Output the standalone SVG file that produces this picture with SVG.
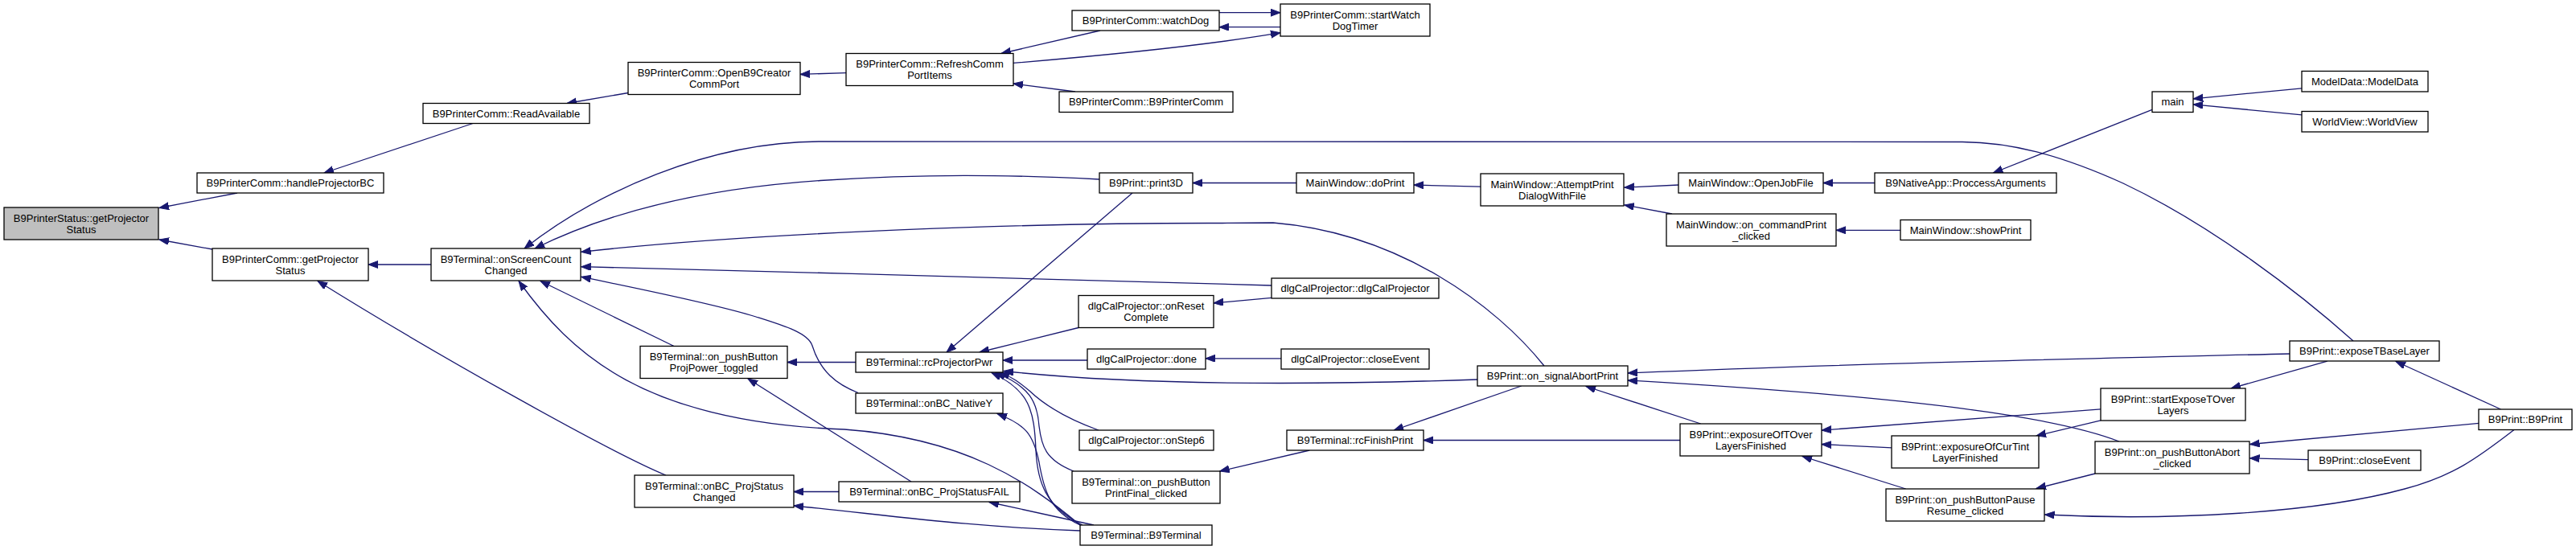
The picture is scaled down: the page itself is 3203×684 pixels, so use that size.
<svg xmlns="http://www.w3.org/2000/svg" width="3203" height="684" viewBox="0 0 3203 684">
<style>
.n rect{fill:#fff;stroke:#000;stroke-width:1.3}
.n.g rect{fill:#bfbfbf}
.n text{font-family:"Liberation Sans",Arial,sans-serif;font-size:13px;text-anchor:middle;fill:#000}
.e path{fill:none;stroke:#191970;stroke-width:1.3;marker-end:url(#a)}
</style>
<defs>
<marker id="a" markerWidth="14" markerHeight="10" refX="12" refY="4.5" orient="auto" markerUnits="userSpaceOnUse"><path d="M0,0L12,4.5L0,9z" fill="#191970" stroke="#191970" stroke-width="1"/></marker>
</defs>
<rect width="3203" height="684" fill="#fff"/>
<g id="edges" class="e">
<path d="M295,240 L198,258.5"/>
<path d="M264,310 L198,298"/>
<path d="M588,153.5 L403,215"/>
<path d="M536,329 L458,329"/>
<path d="M828,591 C760,563 540,440 395,349.5"/>
<path d="M781,115.5 L705,128.5"/>
<path d="M1052,90.6 L995,92.4"/>
<path d="M1368,38 L1245,66.5"/>
<path d="M1337,114 L1260,104"/>
<path d="M1260,78.4 Q1480,60 1592,40.7"/>
<path d="M1516,15.7 L1592,15.7"/>
<path d="M1592,33.7 L1516,33.7"/>
<path d="M2926,424 C2860,365 2750,280 2640,228 C2560,192 2500,177 2440,176.5 L1020,176 C880,176 740,240 652,309"/>
<path d="M1367,223 C1250,217 1150,216 1020,224.5 C880,234 760,262 665,309"/>
<path d="M1920,455 C1860,380 1740,290 1583,277 L1520,277.5 C1300,277 950,288 722.7,313.3"/>
<path d="M1581,355 C1350,349 1000,338 722.7,331.7"/>
<path d="M1067,488.5 C1040,478 1020,462 1010,430 C1005,414 975,405 940,394 C890,378.3 790,358 722.7,344.3"/>
<path d="M838,430.5 L672,349.5"/>
<path d="M1343,653 C1280,600 1200,545 1050,534 C800,525 710,440 645,349.5"/>
<path d="M1064,450.5 L979,450.5"/>
<path d="M1133,599 L930,471"/>
<path d="M1043,611.5 L987,611.5"/>
<path d="M1343,660 C1200,655 1100,640 987,629"/>
<path d="M1612,227.5 L1483,227.5"/>
<path d="M1408,240 L1177,438"/>
<path d="M1341,407.5 L1218,438"/>
<path d="M1352,448 L1247,448"/>
<path d="M1837,472 C1600,480 1400,478 1248,461.5"/>
<path d="M1366,535 C1330,522 1300,505 1280,486 C1268,476 1258,468 1243,463.5"/>
<path d="M1335,586 C1300,572 1295,555 1292,530 C1290,500 1280,480 1238,463.5"/>
<path d="M1346,653 C1300,630 1290,600 1288,560 C1286,510 1280,485 1233,463.5"/>
<path d="M1343,653 C1305,635 1298,610 1292,575 C1285,540 1275,528 1240,514.5"/>
<path d="M1360,653 L1230,624.5"/>
<path d="M1581,370.4 L1509,376.9"/>
<path d="M1593,445.8 L1499,445.8"/>
<path d="M1628.3,560 L1516.7,586"/>
<path d="M1841,232.2 L1758,230"/>
<path d="M1891.7,480 L1733.3,535"/>
<path d="M2089,547.5 L1770,547.5"/>
<path d="M2114.7,527 L1972,480.5"/>
<path d="M2847,440 C2600,446 2300,452 2024,464"/>
<path d="M2635,549 C2560,520 2400,495 2024,473"/>
<path d="M2087.4,230 L2019.8,233.1"/>
<path d="M2079,266 L2019.8,254.9"/>
<path d="M2331,227.5 L2267,227.5"/>
<path d="M2363,286.3 L2283,286.3"/>
<path d="M2676,136.4 L2478.4,215"/>
<path d="M2862,109.8 L2727.2,122.9"/>
<path d="M2862,142.9 L2727.2,129.8"/>
<path d="M2612,508.9 L2265,535.1"/>
<path d="M2352.3,556.9 L2265,552.5"/>
<path d="M2369.7,608 L2241,567.5"/>
<path d="M2612,522.9 L2532,542"/>
<path d="M2605,589 L2532,607.5"/>
<path d="M3126,534.5 C3080,570 3050,592 2990,608 C2880,638 2700,648 2542.5,640"/>
<path d="M2893.8,449.2 L2774,483"/>
<path d="M3109.5,509 L2979,449.5"/>
<path d="M3082.4,526.4 L2797.5,552.5"/>
<path d="M2870.2,571.7 L2797.5,569.9"/>
</g>
<g id="n1" class="n g"><rect x="5" y="258" width="192" height="40"/><text x="101" y="275.5">B9PrinterStatus::getProjector</text><text x="101" y="289.5">Status</text></g>
<g id="n2" class="n"><rect x="245" y="215" width="232" height="25"/><text x="361" y="232">B9PrinterComm::handleProjectorBC</text></g>
<g id="n3" class="n"><rect x="264" y="309" width="194" height="40"/><text x="361" y="326.5">B9PrinterComm::getProjector</text><text x="361" y="340.5">Status</text></g>
<g id="n4" class="n"><rect x="526" y="128.5" width="207" height="25"/><text x="629.5" y="145.5">B9PrinterComm::ReadAvailable</text></g>
<g id="n5" class="n"><rect x="781" y="77.5" width="214" height="40"/><text x="888" y="95">B9PrinterComm::OpenB9Creator</text><text x="888" y="109">CommPort</text></g>
<g id="n6" class="n"><rect x="536" y="309" width="186" height="40"/><text x="629" y="326.5">B9Terminal::onScreenCount</text><text x="629" y="340.5">Changed</text></g>
<g id="n7" class="n"><rect x="796" y="430.5" width="183" height="40"/><text x="887.5" y="448">B9Terminal::on_pushButton</text><text x="887.5" y="462">ProjPower_toggled</text></g>
<g id="n8" class="n"><rect x="789" y="591" width="198" height="40"/><text x="888" y="608.5">B9Terminal::onBC_ProjStatus</text><text x="888" y="622.5">Changed</text></g>
<g id="n9" class="n"><rect x="1333" y="13" width="183" height="25"/><text x="1424.5" y="30">B9PrinterComm::watchDog</text></g>
<g id="n10" class="n"><rect x="1052" y="66.5" width="208" height="40"/><text x="1156" y="84">B9PrinterComm::RefreshComm</text><text x="1156" y="98">PortItems</text></g>
<g id="n11" class="n"><rect x="1317" y="114" width="216" height="25.5"/><text x="1425" y="131">B9PrinterComm::B9PrinterComm</text></g>
<g id="n12" class="n"><rect x="1367" y="215" width="116" height="25"/><text x="1425" y="232">B9Print::print3D</text></g>
<g id="n13" class="n"><rect x="1341" y="367.5" width="168" height="40"/><text x="1425" y="385">dlgCalProjector::onReset</text><text x="1425" y="399">Complete</text></g>
<g id="n14" class="n"><rect x="1064" y="438" width="183" height="25"/><text x="1155.5" y="455">B9Terminal::rcProjectorPwr</text></g>
<g id="n15" class="n"><rect x="1352" y="434" width="147" height="25"/><text x="1425.5" y="451">dlgCalProjector::done</text></g>
<g id="n16" class="n"><rect x="1064" y="489" width="183" height="25"/><text x="1155.5" y="506">B9Terminal::onBC_NativeY</text></g>
<g id="n17" class="n"><rect x="1342" y="535" width="167" height="25"/><text x="1425.5" y="552">dlgCalProjector::onStep6</text></g>
<g id="n18" class="n"><rect x="1333" y="586" width="184" height="40"/><text x="1425" y="603.5">B9Terminal::on_pushButton</text><text x="1425" y="617.5">PrintFinal_clicked</text></g>
<g id="n19" class="n"><rect x="1043" y="599" width="225" height="25"/><text x="1155.5" y="616">B9Terminal::onBC_ProjStatusFAIL</text></g>
<g id="n20" class="n"><rect x="1343" y="653" width="164" height="25"/><text x="1425" y="670">B9Terminal::B9Terminal</text></g>
<g id="n21" class="n"><rect x="1592" y="5" width="186" height="40"/><text x="1685" y="22.5">B9PrinterComm::startWatch</text><text x="1685" y="36.5">DogTimer</text></g>
<g id="n22" class="n"><rect x="1612" y="215" width="146" height="25"/><text x="1685" y="232">MainWindow::doPrint</text></g>
<g id="n23" class="n"><rect x="1841" y="216" width="178" height="40"/><text x="1930" y="233.5">MainWindow::AttemptPrint</text><text x="1930" y="247.5">DialogWithFile</text></g>
<g id="n24" class="n"><rect x="1581" y="346" width="208" height="25"/><text x="1685" y="363">dlgCalProjector::dlgCalProjector</text></g>
<g id="n25" class="n"><rect x="1593" y="434" width="184" height="25"/><text x="1685" y="451">dlgCalProjector::closeEvent</text></g>
<g id="n26" class="n"><rect x="1837" y="455" width="187" height="25"/><text x="1930.5" y="472">B9Print::on_signalAbortPrint</text></g>
<g id="n27" class="n"><rect x="1600" y="535" width="170" height="25"/><text x="1685" y="552">B9Terminal::rcFinishPrint</text></g>
<g id="n28" class="n"><rect x="2087" y="215" width="180" height="25"/><text x="2177" y="232">MainWindow::OpenJobFile</text></g>
<g id="n29" class="n"><rect x="2331" y="215" width="226" height="25"/><text x="2444" y="232">B9NativeApp::ProccessArguments</text></g>
<g id="n30" class="n"><rect x="2072" y="266" width="211" height="40"/><text x="2177.5" y="283.5">MainWindow::on_commandPrint</text><text x="2177.5" y="297.5">_clicked</text></g>
<g id="n31" class="n"><rect x="2363" y="273.5" width="162" height="25"/><text x="2444" y="290.5">MainWindow::showPrint</text></g>
<g id="n32" class="n"><rect x="2089" y="527" width="176" height="40"/><text x="2177" y="544.5">B9Print::exposureOfTOver</text><text x="2177" y="558.5">LayersFinished</text></g>
<g id="n33" class="n"><rect x="2352" y="542" width="183" height="40"/><text x="2443.5" y="559.5">B9Print::exposureOfCurTint</text><text x="2443.5" y="573.5">LayerFinished</text></g>
<g id="n34" class="n"><rect x="2345" y="608" width="197" height="40"/><text x="2443.5" y="625.5">B9Print::on_pushButtonPause</text><text x="2443.5" y="639.5">Resume_clicked</text></g>
<g id="n35" class="n"><rect x="2676" y="114" width="51" height="25.5"/><text x="2701.5" y="131">main</text></g>
<g id="n36" class="n"><rect x="2862" y="88.5" width="157" height="25.5"/><text x="2940.5" y="105.5">ModelData::ModelData</text></g>
<g id="n37" class="n"><rect x="2862" y="138.5" width="157" height="25.5"/><text x="2940.5" y="155.5">WorldView::WorldView</text></g>
<g id="n38" class="n"><rect x="2847" y="424" width="186" height="25"/><text x="2940" y="441">B9Print::exposeTBaseLayer</text></g>
<g id="n39" class="n"><rect x="2612" y="483" width="180" height="40"/><text x="2702" y="500.5">B9Print::startExposeTOver</text><text x="2702" y="514.5">Layers</text></g>
<g id="n40" class="n"><rect x="3082" y="509" width="116" height="25.5"/><text x="3140" y="526">B9Print::B9Print</text></g>
<g id="n41" class="n"><rect x="2605" y="549" width="192" height="40"/><text x="2701" y="566.5">B9Print::on_pushButtonAbort</text><text x="2701" y="580.5">_clicked</text></g>
<g id="n42" class="n"><rect x="2870" y="560" width="140" height="25"/><text x="2940" y="577">B9Print::closeEvent</text></g>
</svg>
